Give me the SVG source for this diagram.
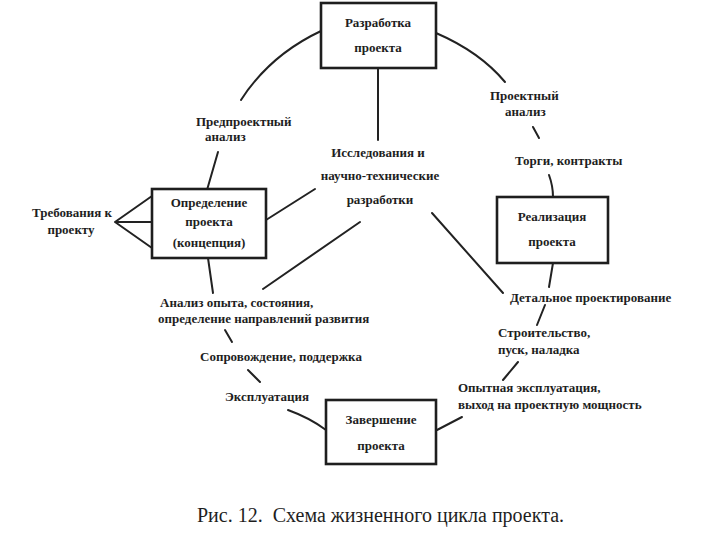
<svg xmlns="http://www.w3.org/2000/svg" width="720" height="540" viewBox="0 0 720 540">
<style>
text{font-family:"Liberation Serif","DejaVu Serif",serif;font-size:13px;font-weight:bold;fill:#1e1e1e}
.m{text-anchor:middle}
.box{fill:#fff;stroke:#1e1e1e;stroke-width:2.6}
.c{fill:none;stroke:#222;stroke-width:2;stroke-linecap:round}
.cap{font-size:20px;font-weight:normal}
</style>
<rect width="720" height="540" fill="#fff"/>
<g id="connectors">
<path class="c" d="M321 31 Q270 55 241 100"/>
<path class="c" d="M436 33 Q480 52 505 82"/>
<path class="c" d="M378 68 L378 140"/>
<path class="c" d="M218 152 L207 190"/>
<path class="c" d="M115 222 L152 196 M115 222 L152 222 M115 222 L152 248"/>
<path class="c" d="M266 220 L315 189"/>
<path class="c" d="M360 222 L263 289"/>
<path class="c" d="M208 258 L213 293"/>
<path class="c" d="M432 213 L503 293"/>
<path class="c" d="M533 127 L539 138"/>
<path class="c" d="M549 175 Q553 186 553 197"/>
<path class="c" d="M553 263 L549 287"/>
<path class="c" d="M545 305 L537 325"/>
<path class="c" d="M518 362 L503 380"/>
<path class="c" d="M462 417 L437 430"/>
<path class="c" d="M225 330 L232 342"/>
<path class="c" d="M248 370 L260 382"/>
<path class="c" d="M288 410 Q310 418 326 430"/>
</g>
<g id="n-razrabotka">
<rect class="box" x="321" y="3" width="115" height="65"/>
<text class="m" x="378" y="27">Разработка</text>
<text class="m" x="378" y="52">проекта</text>
</g>
<g id="n-opredelenie">
<rect class="box" x="152" y="189" width="114" height="69"/>
<text class="m" x="209" y="207">Определение</text>
<text class="m" x="209" y="226">проекта</text>
<text class="m" x="209" y="247">(концепция)</text>
</g>
<g id="n-realizaciya">
<rect class="box" x="497" y="197" width="111" height="66"/>
<text class="m" x="552" y="221">Реализация</text>
<text class="m" x="552" y="246">проекта</text>
</g>
<g id="n-zavershenie">
<rect class="box" x="326" y="400" width="110" height="64"/>
<text class="m" x="381" y="424">Завершение</text>
<text class="m" x="381" y="450">проекта</text>
</g>
<g id="labels">
<text x="196" y="126">Предпроектный</text>
<text x="205" y="141">анализ</text>
<text class="m" x="378" y="157">Исследования и</text>
<text class="m" x="380" y="180">научно-технические</text>
<text class="m" x="380" y="204">разработки</text>
<text class="m" x="72" y="217">Требования к</text>
<text class="m" x="71" y="234">проекту</text>
<text x="490" y="100">Проектный</text>
<text x="505" y="116">анализ</text>
<text x="515" y="165">Торги, контракты</text>
<text x="510" y="302">Детальное проектирование</text>
<text x="498" y="337">Строительство,</text>
<text x="498" y="354">пуск, наладка</text>
<text x="458" y="392">Опытная эксплуатация,</text>
<text x="458" y="409">выход на проектную мощность</text>
<text x="160" y="307">Анализ опыта, состояния,</text>
<text x="158" y="323">определение направлений развития</text>
<text x="200" y="361">Сопровождение, поддержка</text>
<text x="225" y="401">Эксплуатация</text>
<text class="cap" x="197" y="522" xml:space="preserve">Рис. 12.  Схема жизненного цикла проекта.</text>
</g>
</svg>
